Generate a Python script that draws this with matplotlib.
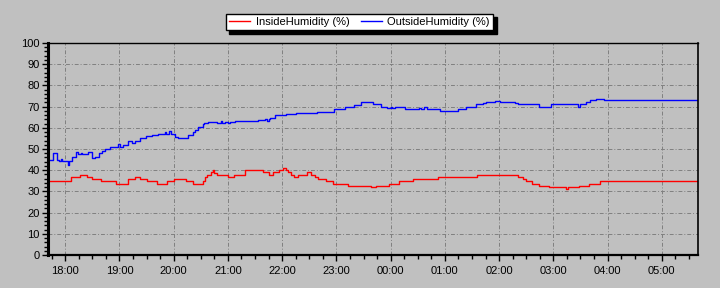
import datetime as dt
import matplotlib
matplotlib.use("Agg")
import matplotlib.pyplot as plt
import matplotlib.dates as mdates
from matplotlib.ticker import MultipleLocator

plt.rcParams['font.family'] = ['Liberation Sans', 'DejaVu Sans']

# Inside humidity (%) - step changes
inside_times = ["17:41", "18:06", "18:16", "18:24", "18:30", "18:40", "18:56", "19:09",
                "19:17", "19:23", "19:30", "19:42", "19:53", "20:00", "20:14", "20:21",
                "20:32", "20:35", "20:37", "20:41", "20:43", "20:45", "20:48", "21:00",
                "21:07", "21:19", "21:39", "21:45", "21:50", "21:56", "22:01", "22:04",
                "22:06", "22:10", "22:13", "22:18", "22:27", "22:32", "22:36", "22:40",
                "22:48", "22:56", "23:13", "23:38", "23:44", "23:58", "00:09", "00:25",
                "00:52", "01:36", "02:21", "02:26", "02:30", "02:36", "02:44", "02:55",
                "03:14", "03:16", "03:28", "03:39", "03:52", "05:40"]
inside_values = [35.0, 36.6, 37.7, 36.6, 35.8, 35.0, 33.4, 35.8,
                 36.8, 35.8, 35.0, 33.4, 35.0, 35.9, 35.0, 33.4,
                 35.0, 36.6, 37.7, 39.0, 40.0, 38.7, 37.7, 36.6,
                 37.7, 40.0, 39.0, 37.7, 39.0, 40.0, 41.0, 40.0,
                 39.0, 37.7, 36.6, 37.7, 39.0, 37.7, 36.6, 35.8,
                 35.0, 33.4, 32.5, 32.2, 32.5, 33.4, 35.0, 35.8,
                 36.6, 37.7, 36.6, 35.8, 35.0, 33.4, 32.5, 32.0,
                 31.0, 32.0, 32.5, 33.4, 35.0, 35.0]

# Outside humidity (%)
outside_times = ["17:41", "17:46", "17:51", "17:53", "17:55", "17:57", "18:03", "18:04",
                 "18:08", "18:12", "18:14", "18:17", "18:19", "18:25", "18:30", "18:33",
                 "18:37", "18:41", "18:44", "18:50", "18:58", "19:01", "19:04", "19:10",
                 "19:14", "19:17", "19:23", "19:29", "19:36", "19:43", "19:50", "19:52",
                 "19:55", "19:57", "20:02", "20:05", "20:16", "20:21", "20:24", "20:27",
                 "20:32", "20:34", "20:38", "20:48", "20:52", "20:54", "20:57", "21:00",
                 "21:02", "21:08", "21:33", "21:41", "21:43", "21:45", "21:47", "21:52",
                 "22:04", "22:15", "22:39", "22:57", "23:10", "23:20", "23:27", "23:40",
                 "23:49", "23:56", "00:00", "00:02", "00:05", "00:16", "00:31", "00:34",
                 "00:37", "00:40", "00:44", "00:55", "01:14", "01:23", "01:34", "01:42",
                 "01:45", "01:56", "02:01", "02:18", "02:21", "02:44", "02:57", "03:27",
                 "03:30", "03:36", "03:41", "03:47", "03:56", "05:40"]
outside_values = [44.8, 48.0, 45.0, 44.3, 45.5, 44.3, 42.4, 44.3,
                  46.4, 48.6, 47.5, 48.0, 47.5, 48.6, 45.6, 46.4,
                  48.0, 49.0, 49.8, 51.0, 52.2, 51.0, 52.0, 53.8,
                  53.0, 54.0, 55.0, 56.0, 56.6, 57.2, 58.0, 57.2,
                  58.3, 57.2, 55.8, 55.3, 56.6, 57.8, 59.0, 60.5,
                  61.6, 62.1, 62.9, 62.5, 63.2, 62.3, 62.9, 62.3,
                  62.7, 63.0, 63.7, 64.0, 63.4, 64.0, 64.6, 65.9,
                  66.5, 66.8, 67.3, 68.7, 69.7, 70.9, 72.0, 71.0,
                  70.0, 69.2, 69.9, 69.2, 69.7, 68.7, 69.4, 68.9,
                  69.6, 69.0, 68.7, 67.8, 68.7, 69.7, 71.0, 71.5,
                  72.0, 72.8, 72.0, 71.5, 71.1, 70.0, 71.1, 70.0,
                  71.1, 72.0, 73.1, 73.4, 73.0, 73.0]


def to_dt(s):
    h, m = map(int, s.split(":"))
    day = 1 if h >= 12 else 2
    return dt.datetime(2024, 1, day, h, m)


inside_x = [to_dt(s) for s in inside_times]
outside_x = [to_dt(s) for s in outside_times]

bg = '#c0c0c0'
fig = plt.figure(figsize=(7.2, 2.88), dpi=100, facecolor=bg)
ax = fig.add_axes([48 / 720, 33 / 288, 650 / 720, 212 / 288], facecolor=bg)

ax.step(inside_x, inside_values, where='post', color='#ff0000', lw=1.0,
        label='InsideHumidity (%)')
ax.step(outside_x, outside_values, where='post', color='#0000ff', lw=1.0,
        label='OutsideHumidity (%)')

ax.set_xlim(to_dt("17:41"), to_dt("05:40"))
ax.set_ylim(0, 100)

ax.xaxis.set_major_locator(mdates.HourLocator())
ax.xaxis.set_minor_locator(mdates.MinuteLocator(byminute=[15, 30, 45]))
ax.xaxis.set_major_formatter(mdates.DateFormatter('%H:%M'))
ax.yaxis.set_major_locator(MultipleLocator(10))
ax.yaxis.set_minor_locator(MultipleLocator(2))

ax.tick_params(axis='both', which='major', direction='out', length=4, width=1,
               color='black', labelsize=8, pad=2)
ax.tick_params(axis='both', which='minor', direction='out', length=3, width=1,
               color='black')
ax.tick_params(axis='x', which='major', pad=4)

ax.grid(True, which='major', color='#808080', lw=0.7, ls=(0, (4, 2, 1, 2)))

for side, w in [('left', 2.2), ('bottom', 1.6), ('top', 1.0), ('right', 1.2)]:
    ax.spines[side].set_linewidth(w)
    ax.spines[side].set_color('black')

leg = fig.legend(loc='center', bbox_to_anchor=(359.5 / 720, 1 - 22 / 288), ncol=2,
                 fontsize=8, frameon=True, fancybox=False,
                 shadow={'color': 'black', 'alpha': 1.0, 'ox': 2.5, 'oy': -2.5},
                 framealpha=1, edgecolor='black', handlelength=1.9,
                 handletextpad=0.5, columnspacing=1.0, borderpad=0.3,
                 borderaxespad=0)
leg.get_frame().set_linewidth(1.0)
for line in leg.get_lines():
    line.set_linewidth(1.0)

fig.savefig('out.png', dpi=100, facecolor=bg)
